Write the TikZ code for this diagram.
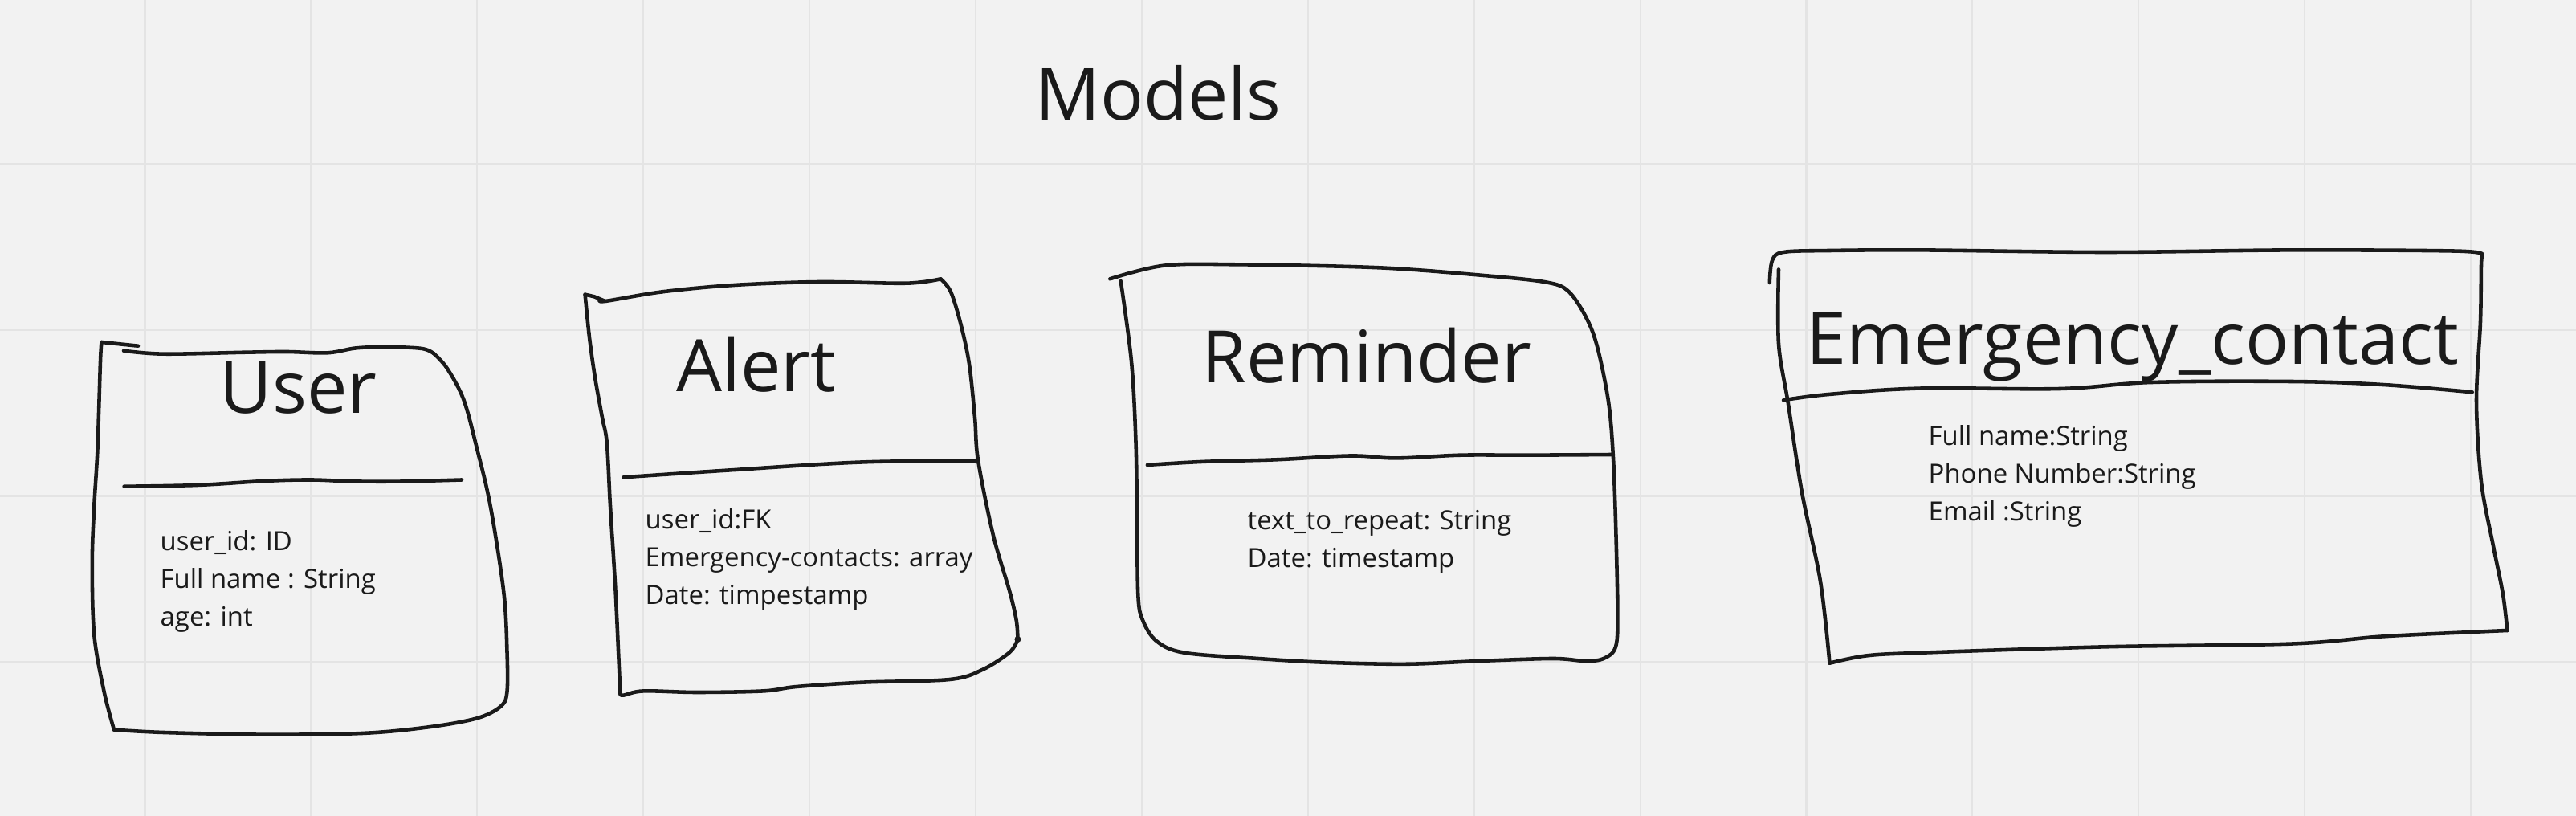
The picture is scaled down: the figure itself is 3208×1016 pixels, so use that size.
\documentclass[tikz,border=0pt]{standalone}
\usepackage{fontspec}
\setmainfont{Open Sans}
\definecolor{bg}{HTML}{F2F2F2}
\definecolor{gridc}{HTML}{E4E4E4}
\definecolor{ink}{HTML}{1A1A1A}
\tikzset{
  sketch/.style={draw=ink, line width=1.3pt, line cap=round, line join=round},
  gridline/.style={draw=gridc, line width=0.6pt},
  ttl/.style={inner sep=0pt, anchor=base, text=ink, font=\fontsize{25.6pt}{30pt}\selectfont},
  bigttl/.style={inner sep=0pt, anchor=base, text=ink, font=\fontsize{25.5pt}{30pt}\selectfont},
  attr/.style={inner sep=0pt, anchor=base west, text=ink, font=\fontsize{9.35pt}{13pt}\selectfont},
}
\begin{document}
\begin{tikzpicture}[x=0.01cm, y=-0.01cm]
\useasboundingbox (0,0) rectangle (3208,1016);
\fill[bg] (0,0) rectangle (3208,1016);
% grid
\foreach \i in {0,...,14} {
  \draw[gridline] ({180.5+206.9*\i},0) -- ({180.5+206.9*\i},1016);
}
\foreach \j in {0,...,3} {
  \draw[gridline] (0,{203.7+206.9*\j}) -- (3208,{203.7+206.9*\j});
}

% title
\node[bigttl] (models) at (1442,150) {Models};

% ---------------- User ----------------
\draw[sketch] (172,430.7) -- (126.5,426);
\draw[sketch] plot[smooth, tension=0.55] coordinates {
  (126.5,426) (125,450) (121.5,558.6) (117.3,630) (114.8,701) (117.3,790.7) (129.8,862) (142,908.6)};
\draw[sketch] plot[smooth, tension=0.55] coordinates {
  (142,908.6) (204,912) (328.8,914.6) (453,912.9) (536,905) (594,894.3) (623,880) (631.4,862)
  (631.4,808.6) (627.3,737) (610.7,630) (594,558.6) (577.5,497.9) (556.8,458.6) (540,440)};
\draw[sketch] plot[smooth, tension=0.55] coordinates {
  (540,440) (525.5,434) (484.7,432) (444,433.3) (408,439.3) (357,438) (306,438.7) (204,440.7) (154,436.7)};
\draw[sketch] plot[smooth, tension=0.6] coordinates {
  (154.6,605.7) (245.8,604) (328.8,599) (386.8,597.5) (436.6,599.3) (494.6,599.6) (575,597.5)};
\node[ttl] (usert) at (371.5,515) {User};
\node[attr] (usera) at (199,686) {user\_id: ID};
\node[attr] (userb) at (199,732.7) {Full name : String};
\node[attr] (userc) at (199,779.3) {age: int};

% ---------------- Alert ----------------
\draw[sketch] (753.6,375) -- (740,369.3) -- (728.6,366.7);
\draw[sketch] plot[smooth, tension=0.55] coordinates {
  (728.6,366.7) (734,420) (741,470) (750,520) (755.8,551.4) (760,630) (766.6,737) (772.4,864)};
\draw[sketch] plot[smooth, tension=0.55] coordinates {
  (748,373) (753.6,375) (825,363.3) (914.3,355) (1021.4,351) (1128.6,352.7) (1171.4,347.3)};
\draw[sketch] plot[smooth, tension=0.55] coordinates {
  (1171.4,347.3) (1184,363.3) (1196.4,403.3) (1207,453.3) (1214,520) (1218,573) (1236.7,665.7) (1257.5,737) (1265.8,773) (1267.4,796)};
\fill[ink] (1267.4,796) circle (4);
\draw[sketch] plot[smooth, tension=0.55] coordinates {
  (1267.4,796) (1257.5,812) (1224,833.6) (1182.8,846) (1075,849.6) (992,855) (950.6,860.4) (867.7,862) (801.4,860.4) (776.5,865.7) (772.4,864)};
\draw[sketch] plot[smooth, tension=0.6] coordinates {
  (776.5,594.3) (909,585.4) (1075,575.4) (1216,574)};
\node[ttl] (alertt) at (942,488) {Alert};
\node[attr] (alerta) at (803,658.6) {user\_id:FK};
\node[attr] (alertb) at (803,705.4) {Emergency-contacts: array};
\node[attr] (alertc) at (803,752.2) {Date: timpestamp};

% ---------------- Reminder ----------------
\draw[sketch] plot[smooth, tension=0.55] coordinates {
  (1382.3,347.3) (1449.3,330.7) (1538.6,329.3) (1717,333.3) (1851,343.3) (1927,351.7) (1953.8,363.3)
  (1976,396.7) (1989.5,433.3) (2003,500) (2008.7,565) (2012,650) (2014.4,761) (2012,805.3)
  (1997,820) (1974,823) (1934,820) (1842,823) (1750,826.8) (1647,824.6) (1566.7,820)
  (1474.8,812.7) (1440,798) (1423,772) (1417.4,742.5) (1416,650) (1414.5,550) (1409,450) (1395.7,350)};
\draw[sketch] plot[smooth, tension=0.6] coordinates {
  (1428.9,579) (1497.8,574.9) (1589.6,572.3) (1681.5,567.5) (1738.9,570.4) (1819.2,566.7) (1899.6,566.7) (2008.7,566)};
\node[ttl] (remt) at (1702,477) {Reminder};
\node[attr] (rema) at (1553,659.2) {text\_to\_repeat: String};
\node[attr] (remb) at (1553,706.2) {Date: timestamp};

% ---------------- Emergency_contact ----------------
\draw[sketch] plot[smooth, tension=0.55] coordinates {
  (2203.8,352) (2207,324.4) (2221,314) (2278.5,312) (2393.3,311.4) (2623,314) (2852.5,311.4) (3059,312.6) (3091.3,317)};
\draw[sketch] plot[smooth, tension=0.55] coordinates {
  (3091.3,317) (3090,330) (3089,400) (3084,500) (3090,600) (3105,680) (3117,740) (3122.4,785)};
\draw[sketch] plot[smooth, tension=0.55] coordinates {
  (3122.4,785) (3082,786.8) (2967.4,792.4) (2852.5,801.6) (2623,805.3) (2393.3,812.7) (2324.5,816.4) (2278.5,825.7)};
\draw[sketch] plot[smooth, tension=0.55] coordinates {
  (2215,335.5) (2215,428) (2226.8,502) (2244,613) (2267,724) (2278.5,825.7)};
\draw[sketch] plot[smooth, tension=0.6] coordinates {
  (2221,498.3) (2278.5,490.9) (2393.3,483.5) (2565.5,484) (2680,476) (2852.5,475) (2967.4,479) (3078.7,488.3)};
\node[ttl] (emt) at (2656,454) {Emergency\_contact};
\node[attr] (ema) at (2401,555) {Full name:String};
\node[attr] (emb) at (2401,601.7) {Phone Number:String};
\node[attr] (emc) at (2401,648.3) {Email :String};
\end{tikzpicture}
\end{document}
